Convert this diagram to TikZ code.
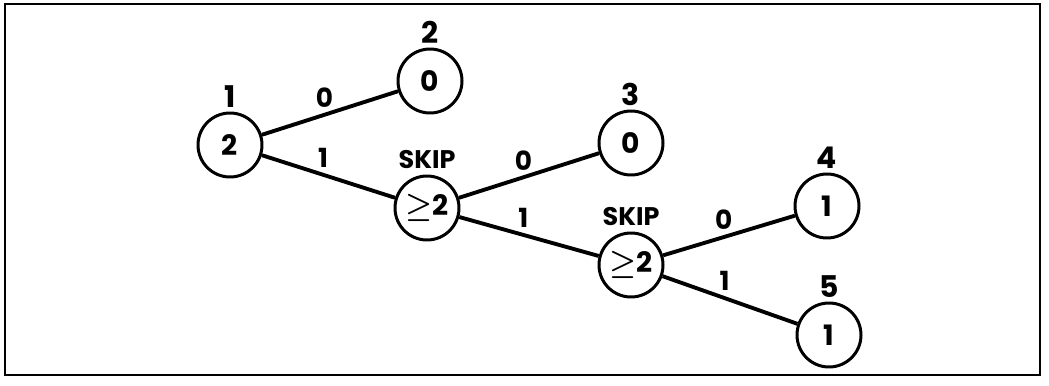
\documentclass[tikz,border=0pt]{standalone}
\usepackage{fontspec}
\setmainfont{Poppins}
\usetikzlibrary{positioning}

\tikzset{
  state/.style={draw, circle, line width=1.7pt, minimum size=1.28cm, inner sep=0pt, font=\fontsize{16}{18}\selectfont\bfseries\boldmath},
  tag/.style={inner sep=0pt, font=\fontsize{17}{19}\selectfont\bfseries},
  skiptag/.style={inner sep=0pt, font=\fontsize{14.5}{16}\selectfont\bfseries},
  branch/.style={line width=2.2pt},
  bit/.style={pos=0.46, above, inner sep=3pt, font=\fontsize{15}{17}\selectfont\bfseries}
}

\begin{document}
\begin{tikzpicture}
    \useasboundingbox (0,0) rectangle (20.98,7.70);
    % Frame
    \draw[line width=1.1pt] (0.1,0.2) rectangle (20.8,7.62);

    % Tree nodes
    \node[state] (n1) at (4.60,4.80) {2};
    \node[state] (n2) at (8.60,6.08) {0};
    \node[state] (s1) at (8.54,3.54) {$\geq$2};
    \node[state] (n3) at (12.62,4.84) {0};
    \node[state] (s2) at (12.62,2.40) {$\geq$2};
    \node[state] (n4) at (16.54,3.58) {1};
    \node[state] (n5) at (16.58,1.00) {1};

    % Numbers over the nodes
    \node[tag, above=2pt of n1] (t1) {1};
    \node[tag, above=2pt of n2] (t2) {2};
    \node[tag, above=2pt of n3] (t3) {3};
    \node[tag, above=2pt of n4] (t4) {4};
    \node[tag, above=2pt of n5] (t5) {5};
    \node[skiptag, above=3pt of s1] (k1) {SKIP};
    \node[skiptag, above=3pt of s2] (k2) {SKIP};

    % Branches
    \draw[branch] (n1) -- node[bit] (b1) {0} (n2);
    \draw[branch] (n1) -- node[bit] (b2) {1} (s1);
    \draw[branch] (s1) -- node[bit] (b3) {0} (n3);
    \draw[branch] (s1) -- node[bit] (b4) {1} (s2);
    \draw[branch] (s2) -- node[bit] (b5) {0} (n4);
    \draw[branch] (s2) -- node[bit] (b6) {1} (n5);

\end{tikzpicture}
\end{document}
